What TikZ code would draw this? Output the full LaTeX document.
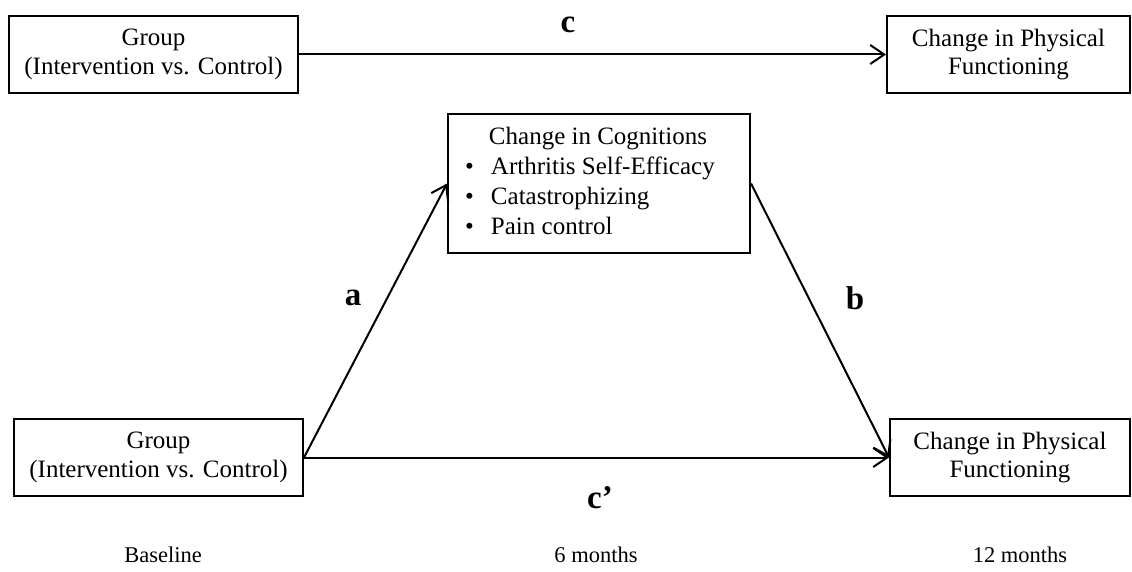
\documentclass[tikz,border=0pt]{standalone}
\usepackage{fontspec}
\setmainfont{Liberation Serif}
\usetikzlibrary{arrows.meta}
\begin{document}
\begin{tikzpicture}[x=1pt,y=-1pt,
  box/.style={draw, line width=2pt, inner sep=0pt, align=center,
    font=\fontsize{25}{28.5}\selectfont},
  conn/.style={line width=2pt, -{Straight Barb[length=14pt,width=19pt,line width=2pt]}},
  lab/.style={font=\fontsize{33}{35}\selectfont\bfseries},
  timel/.style={font=\fontsize{22.5}{25}\selectfont}]
\useasboundingbox (0,0) rectangle (1132,572);
\node[box, minimum width=289pt, minimum height=77pt] (tl) at (153.5,54.5) {Group\\(Intervention vs. Control)};
\node[box, minimum width=243pt, minimum height=77pt] (tr) at (1008.5,54.5) {Change in Physical\\Functioning};
\node[box, minimum width=302pt, minimum height=139pt] (cog) at (599,183.5) {};
\node[font=\fontsize{25}{29.8}\selectfont, inner sep=0pt] (cogtext) at (590,183.5) {%
  \begin{tabular}{@{}l@{\hspace{17pt}}l@{}}
  \multicolumn{2}{@{}c@{}}{\hspace*{16pt}Change in Cognitions}\\
  •&Arthritis Self-Efficacy\\
  •&Catastrophizing\\
  •&Pain control
  \end{tabular}};
\node[box, minimum width=289pt, minimum height=77pt] (bl) at (158.5,457.5) {Group\\(Intervention vs. Control)};
\node[box, minimum width=240pt, minimum height=77pt] (br) at (1010,457.5) {Change in Physical\\Functioning};
\draw[conn] (tl.east) -- (tr.west);
\draw[conn] (bl.east) -- (cog.west);
\draw[conn] (cog.east) -- (br.west);
\draw[conn] (bl.east) -- (br.west);
\node[lab] (lc) at (568,25) {c};
\node[lab] (la) at (353,298) {a};
\node[lab] (lb) at (855,298) {b};
\node[lab] (lcp) at (600,498) {c’};
\node[timel] (t0) at (163,555) {Baseline};
\node[timel] (t6) at (596,555) {6 months};
\node[timel] (t12) at (1020,555) {12 months};
\end{tikzpicture}
\end{document}
